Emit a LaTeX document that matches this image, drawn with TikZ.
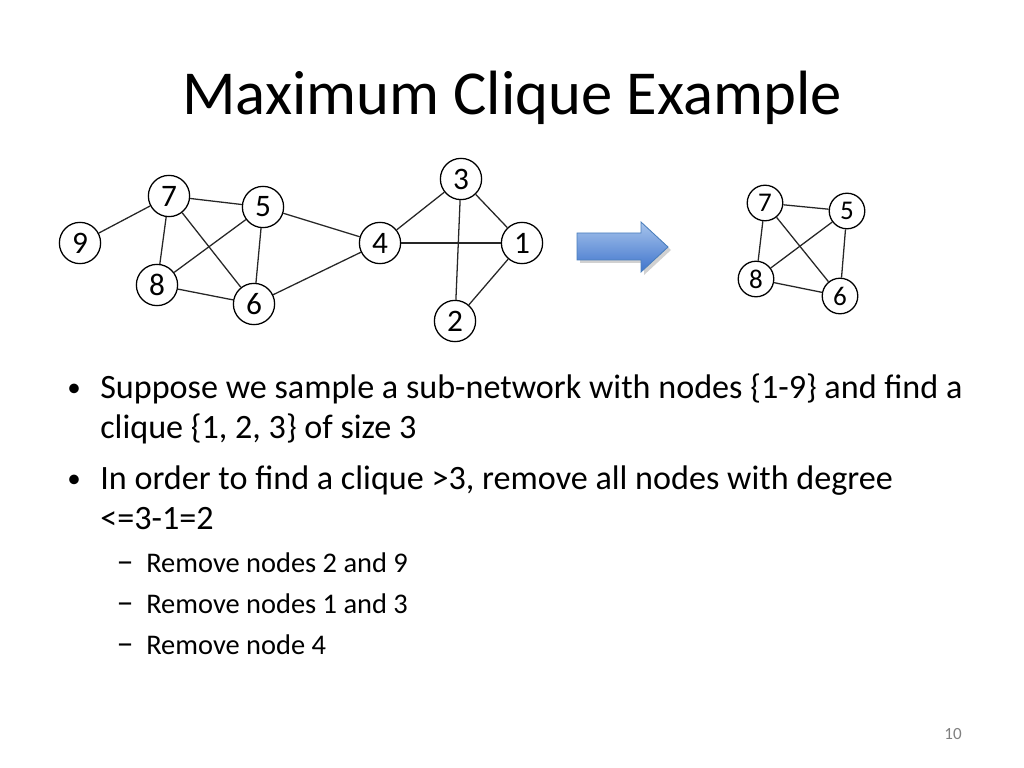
\documentclass[tikz,border=0pt]{standalone}
\usepackage{fontspec}
\setmainfont{Carlito}
\usepackage{xcolor}
\usetikzlibrary{positioning,shadows}
\definecolor{arrowtop}{HTML}{A7C4EC}
\definecolor{arrowbot}{HTML}{3F74CC}
\definecolor{arrowline}{HTML}{4A7EBB}

\begin{document}
\begin{tikzpicture}[
		x=0.703125pt, y=-0.703125pt,
		Vertex/.style={draw=black,circle,line width=0.9pt,minimum width=29pt,minimum height=29pt,inner sep=0pt,font=\fontsize{22}{22}\selectfont},
		SmallVertex/.style={Vertex,minimum width=25pt,minimum height=25pt,font=\fontsize{19}{19}\selectfont},
		Edges/.style={draw=black!85,line width=0.9pt},
		Bullet/.style={anchor=base west,inner sep=0pt,font=\fontsize{24}{28}\selectfont},
		SubBullet/.style={anchor=base west,inner sep=0pt,font=\fontsize{20}{24}\selectfont}
		]
		\useasboundingbox (0,0) rectangle (1024,768);
		
		% title
		\node (title) [anchor=base,inner sep=0pt,font=\fontsize{44}{50}\selectfont] at (512,115) {Maximum Clique Example};
		
		% sampled sub-network
		\node [Vertex] (n9) at (80,243) {9};
		\node [Vertex] (n7) at (169,196) {7};
		\node [Vertex] (n5) at (263,207) {5};
		\node [Vertex] (n8) at (157,285) {8};
		\node [Vertex] (n6) at (254,304) {6};
		\node [Vertex] (n4) at (380,243) {4};
		\node [Vertex] (n3) at (461,179) {3};
		\node [Vertex] (n1) at (522,243) {1};
		\node [Vertex] (n2) at (455,321) {2};
		
		\foreach \a/\b in {n9/n7,n7/n5,n7/n8,n7/n6,n5/n8,n5/n6,n5/n4,n8/n6,n6/n4,n4/n3,n4/n1,n3/n1,n3/n2,n1/n2}
		\draw[Edges] (\a)--(\b);
		
		% block arrow
		\coordinate (tailtop) at (577,233);
		\coordinate (tip) at (668,247);
		\fill[black!18] (580,236)--(644,236)--(644,225)--(671,250)--(644,275)--(644,263)--(580,263)--cycle;
		\shadedraw[top color=arrowtop,bottom color=arrowbot,draw=arrowline,line width=0.6pt]
		(tailtop)--(641,233)--(641,222)--(tip)--(641,272)--(641,260)--(577,260)--cycle;
		
		% remaining clique
		\node [SmallVertex] (m7) at (765,203) {7};
		\node [SmallVertex] (m5) at (847,211) {5};
		\node [SmallVertex] (m8) at (756,279) {8};
		\node [SmallVertex] (m6) at (840,296) {6};
		
		\foreach \a/\b in {m7/m5,m7/m8,m7/m6,m5/m8,m5/m6,m8/m6}
		\draw[Edges] (\a)--(\b);
		
		% bullets
		\node [Bullet] (b1) at (100,398) {Suppose we sample a sub-network with nodes \{1-9\} and find a};
		\node [Bullet] (b1b) at (100,438) {clique \{1, 2, 3\} of size 3};
		\node [Bullet] (b2) at (100,489) {In order to find a clique >3, remove all nodes with degree};
		\node [Bullet] (b2b) at (100,529) {<=3-1=2};
		\node [Bullet,anchor=base,font=\fontsize{19}{20}\selectfont] at (74,396) {•};
		\node [Bullet,anchor=base,font=\fontsize{19}{20}\selectfont] at (74,487) {•};
		
		\node [SubBullet] (s1) at (146,572) {Remove nodes 2 and 9};
		\node [SubBullet] (s2) at (146,613) {Remove nodes 1 and 3};
		\node [SubBullet] (s3) at (146,654) {Remove node 4};
		\foreach \y in {572,613,654}
		\node [SubBullet,anchor=base,font=\fontsize{24}{24}\selectfont] at (125,\y) {–};
		
		% page number
		\node (page) [anchor=base,inner sep=0pt,text=black!50,font=\fontsize{12}{14}\selectfont] at (953,739) {10};
		
\end{tikzpicture}
\end{document}
